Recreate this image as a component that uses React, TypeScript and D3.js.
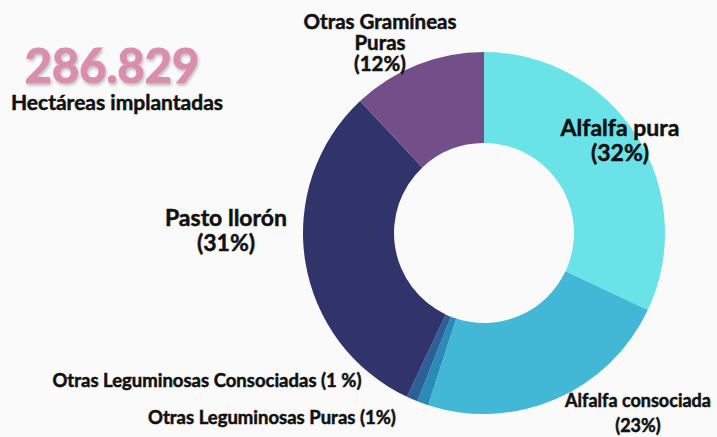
import React from 'react'
import * as d3 from 'd3'

const categories = [
  'Alfalfa pura',
  'Alfalfa consociada',
  'Otras Leguminosas Puras',
  'Otras Leguminosas Consociadas',
  'Pasto llorón',
  'Otras Gramíneas Puras',
]
const values = [32, 23, 1, 1, 31, 12]
const colors = ['#6ae3e8', '#42b8d6', '#2a8ab8', '#2d5f99', '#30346b', '#734f89']

const total = '286.829'
const subtitle = 'Hectáreas implantadas'

// label lines per slice, with where they sit and how big
const labels = [
  { lines: ['Alfalfa pura', '(32%)'], x: 620, y: 136, size: 23, gap: 25 },
  { lines: ['Alfalfa consociada', '(23%)'], x: 638, y: 407, size: 18, gap: 25 },
  { lines: ['Otras Leguminosas Puras (1%)'], x: 272, y: 424, size: 18.5, gap: 0 },
  { lines: ['Otras Leguminosas Consociadas (1 %)'], x: 207, y: 387, size: 18.5, gap: 0 },
  { lines: ['Pasto llorón', '(31%)'], x: 226, y: 226, size: 23, gap: 25 },
  { lines: ['Otras Gramíneas', 'Puras', '(12%)'], x: 380, y: 29, size: 20.5, gap: 21 },
]

const W = 717
const H = 437
const cx = 484
const cy = 233
const outerR = 181
const innerR = 90

export default function App() {
  const pie = d3.pie<number>().value((d) => d).sort(null)
  const arcs = pie(values)
  const arc = d3.arc<d3.PieArcDatum<number>>().innerRadius(innerR).outerRadius(outerR)
  const font = "Lato, 'Noto Sans', sans-serif"

  return (
    <svg
      width={W}
      height={H}
      style={{ position: 'absolute', left: 0, top: 0, background: '#fafafa' }}
    >
      <defs>
        <filter id="sh" x="-10%" y="-10%" width="130%" height="140%">
          <feDropShadow dx="1" dy="2" stdDeviation="1.5" floodColor="#000" floodOpacity="0.25" />
        </filter>
      </defs>
      <g transform={`translate(${cx},${cy})`}>
        {arcs.map((a, i) => (
          <path key={categories[i]} d={arc(a) || ''} fill={colors[i]} />
        ))}
      </g>
      <text
        x={112}
        y={83}
        textAnchor="middle"
        fontFamily={font}
        fontWeight="bold"
        fontSize={47}
        fill="#d98fab"
        stroke="#d98fab"
        strokeWidth={1.2}
        filter="url(#sh)"
      >
        {total}
      </text>
      <text
        x={117}
        y={110}
        textAnchor="middle"
        fontFamily={font}
        fontWeight="bold"
        fontSize={21}
        fill="#111"
        stroke="#111"
        strokeWidth={0.5}
      >
        {subtitle}
      </text>
      {labels.map((l, i) => (
        <text
          key={i}
          textAnchor="middle"
          fontFamily={font}
          fontWeight="bold"
          fontSize={l.size}
          fill="#111"
          stroke="#111"
          strokeWidth={0.5}
        >
          {l.lines.map((s, j) => (
            <tspan key={j} x={l.x} y={l.y + j * l.gap}>
              {s}
            </tspan>
          ))}
        </text>
      ))}
    </svg>
  )
}
